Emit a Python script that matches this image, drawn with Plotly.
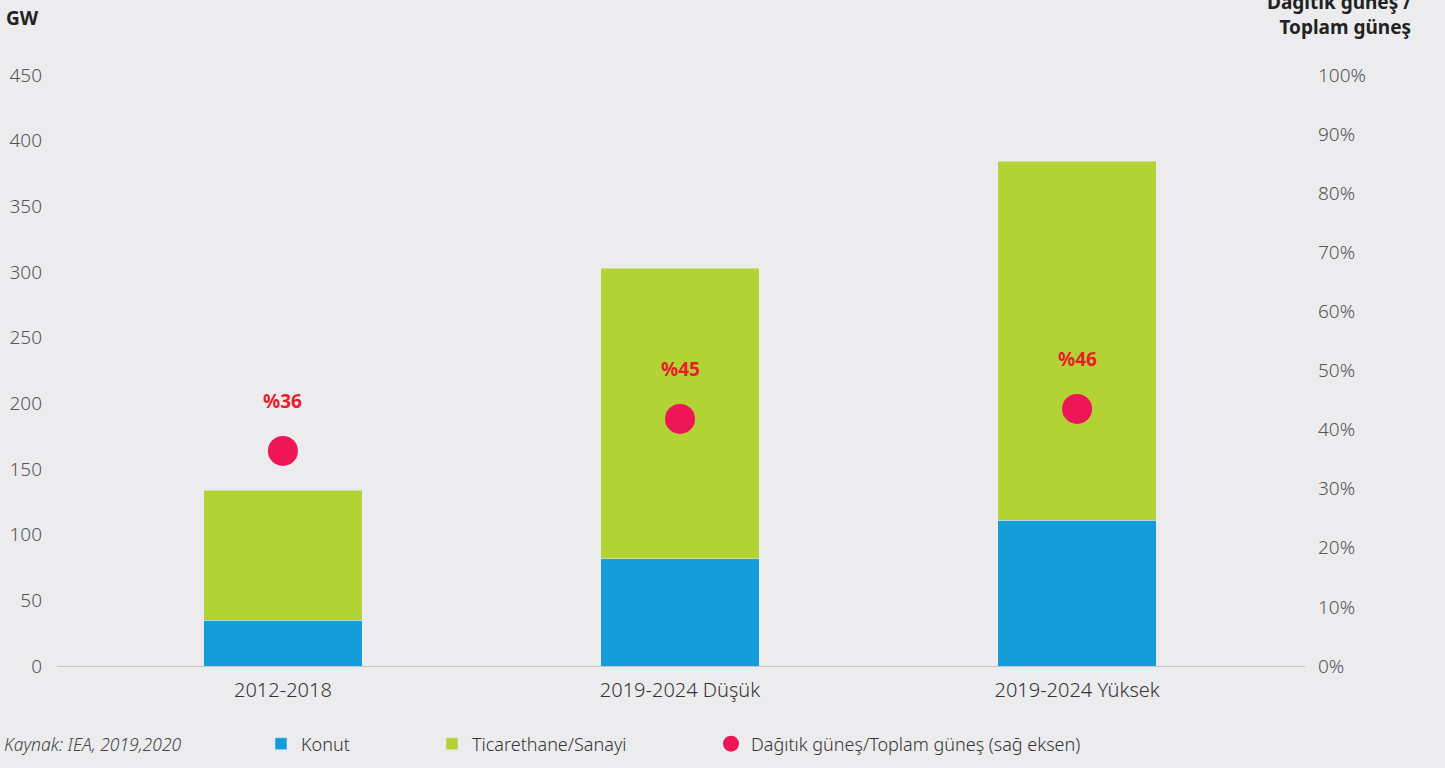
import plotly.graph_objects as go

categories = ["2012-2018", "2019-2024 Düşük", "2019-2024 Yüksek"]
konut = [35, 81.5, 111]
ticari = [99, 221.5, 273.5]
oran = [36.4, 41.8, 43.5]
oran_labels = ["%36", "%45", "%46"]

left_ticks = [0, 50, 100, 150, 200, 250, 300, 350, 400, 450]
right_ticks = [0, 10, 20, 30, 40, 50, 60, 70, 80, 90, 100]

BG = "#ececee"
BLUE = "#159dd9"
GREEN = "#b3d335"
RED = "#ee1656"
FONT = "Noto Sans"

fig = go.Figure()
fig.add_trace(go.Bar(x=categories, y=konut, name="Konut", marker_color=BLUE,
                     width=0.4, legend="legend"))
fig.add_trace(go.Bar(x=categories, y=ticari, name="Ticarethane/Sanayi", marker_color=GREEN,
                     width=0.4, legend="legend2"))
fig.add_trace(go.Scatter(x=categories, y=oran, name="Dağıtık güneş/Toplam güneş (sağ eksen)",
                         mode="markers", marker=dict(color=RED, size=30), yaxis="y2",
                         legend="legend3"))

for c, v, t in zip(categories, oran, oran_labels):
    fig.add_annotation(x=c, y=v, yref="y2", text=t, showarrow=False, yshift=50,
                       font=dict(family=FONT, size=19, color="#e91c2a", weight="bold"))

W0, W1, H0, H1 = 57, 1305, 75, 666
def px_x(p):
    return (p - W0) / (W1 - W0)
def px_y(p):
    return (H1 - p) / (H1 - H0)

fig.add_annotation(xref="paper", yref="paper", x=px_x(4), y=px_y(18), xanchor="left", yanchor="middle",
                   text="<b>GW</b>", showarrow=False, font=dict(family=FONT, size=19, color="#222"))
fig.add_annotation(xref="paper", yref="paper", x=px_x(1413), y=px_y(42), xanchor="right", yanchor="bottom",
                   align="right", text="<b>Dağıtık güneş /<br>Toplam güneş</b>", showarrow=False,
                   font=dict(family=FONT, size=19, color="#222"))
fig.add_annotation(xref="paper", yref="paper", x=px_x(2), y=px_y(744), xanchor="left", yanchor="middle",
                   text="<i>Kaynak: IEA, 2019,2020</i>", showarrow=False,
                   font=dict(family=FONT, size=17.5, color="#444", weight=300))

legfont = dict(family=FONT, size=18, color="#333", weight=300)
def leg(xpix):
    return dict(orientation="h", x=px_x(xpix), y=px_y(744), xanchor="left", yanchor="middle",
                bgcolor="rgba(0,0,0,0)", font=legfont, itemsizing="trace")

fig.update_layout(
    width=1445, height=768,
    paper_bgcolor=BG, plot_bgcolor=BG,
    margin=dict(l=W0, r=1445 - W1, t=H0, b=768 - H1, autoexpand=False),
    barmode="stack",
    showlegend=True,
    legend=leg(261),
    legend2=leg(432),
    legend3=leg(711),
    xaxis=dict(range=[-0.569, 2.574], showline=True, linecolor="#c4c4c4", linewidth=1,
               showgrid=False, ticks="", tickfont=dict(family=FONT, size=20, color="#333", weight=300),
               ticklabelstandoff=6),
    yaxis=dict(range=[0, 450], tickvals=left_ticks, showgrid=False, zeroline=False,
               showline=False, ticks="", tickfont=dict(family=FONT, size=19, color="#555", weight=300),
               ticklabelstandoff=14),
    yaxis2=dict(range=[0, 100], tickvals=right_ticks, ticktext=[f"{v}%" for v in right_ticks],
                overlaying="y", side="right", showgrid=False, zeroline=False, showline=False,
                ticks="", tickfont=dict(family=FONT, size=19, color="#555", weight=300),
                ticklabelstandoff=12),
)

fig.write_html("out.html")
